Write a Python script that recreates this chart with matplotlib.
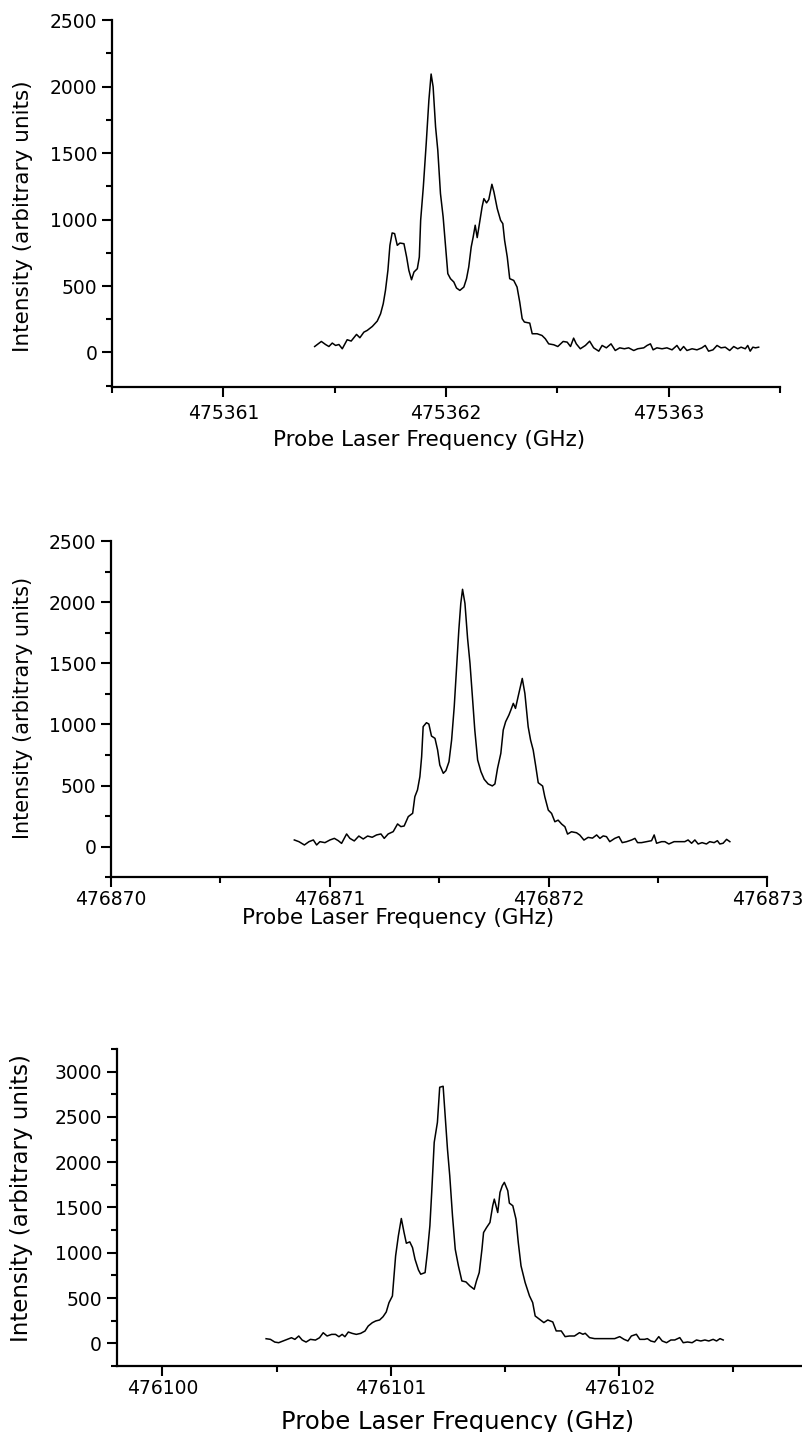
"""Three LIF spectra stacked vertically: intensity vs probe laser frequency."""

import matplotlib

matplotlib.use("Agg")
import matplotlib.pyplot as plt
import numpy as np
from matplotlib.ticker import FuncFormatter, MultipleLocator

plt.rcParams["font.family"] = ["DejaVu Sans"]

# Panel 1: frequency offsets from 475361 GHz and intensities
P1_BASE = 475361
P1_OFFSET = [
    0.410, 0.440, 0.459, 0.474, 0.489, 0.504, 0.519, 0.534, 0.556, 0.574,
    0.598, 0.613, 0.631, 0.646, 0.669, 0.691, 0.706, 0.718, 0.728, 0.739,
    0.748, 0.758, 0.769, 0.781, 0.793, 0.811, 0.823, 0.833, 0.845, 0.856,
    0.871, 0.880, 0.886, 0.898, 0.911, 0.923, 0.933, 0.942, 0.953, 0.963,
    0.975, 0.987, 0.998, 1.008, 1.020, 1.035, 1.047, 1.062, 1.080, 1.092,
    1.102, 1.113, 1.122, 1.131, 1.140, 1.150, 1.162, 1.170, 1.182, 1.192,
    1.206, 1.215, 1.230, 1.245, 1.255, 1.263, 1.275, 1.286, 1.304, 1.319,
    1.331, 1.342, 1.352, 1.376, 1.387, 1.409, 1.431, 1.446, 1.461, 1.484,
    1.502, 1.526, 1.544, 1.559, 1.573, 1.585, 1.603, 1.626, 1.645, 1.663,
    1.686, 1.701, 1.720, 1.741, 1.760, 1.780, 1.801, 1.820, 1.843, 1.861,
    1.888, 1.903, 1.918, 1.930, 1.947, 1.970, 1.992, 2.015, 2.037, 2.052,
    2.067, 2.082, 2.105, 2.127, 2.149, 2.164, 2.179, 2.199, 2.217, 2.235,
    2.254, 2.274, 2.292, 2.310, 2.325, 2.344, 2.355, 2.366, 2.378, 2.390,
    2.404,
]
P1_INTENSITY = [
    45, 83, 60, 45, 71, 53, 60, 28, 96, 86,
    136, 111, 153, 166, 196, 236, 291, 367, 467, 618,
    806, 899, 894, 806, 823, 818, 718, 618, 547, 605,
    630, 718, 994, 1245, 1572, 1898, 2094, 1998, 1697, 1521,
    1195, 1019, 793, 593, 555, 530, 485, 467, 492, 555,
    643, 793, 869, 957, 864, 969, 1095, 1157, 1125, 1150,
    1265, 1208, 1082, 994, 969, 844, 718, 555, 542, 492,
    379, 254, 229, 221, 141, 141, 128, 103, 65, 58,
    45, 83, 78, 45, 108, 65, 28, 53, 85, 35,
    10, 53, 35, 65, 15, 35, 28, 35, 15, 28,
    35, 53, 65, 20, 35, 28, 35, 20, 53, 15,
    45, 15, 28, 20, 35, 53, 10, 20, 53, 35,
    40, 15, 45, 28, 40, 28, 53, 10, 40, 35,
    40,
]

# Panel 2: offsets from 476870 GHz
P2_BASE = 476870
P2_OFFSET = [
    0.838, 0.859, 0.884, 0.905, 0.925, 0.940, 0.955, 0.978, 1.001, 1.021,
    1.039, 1.054, 1.077, 1.092, 1.112, 1.133, 1.153, 1.173, 1.194, 1.214,
    1.234, 1.249, 1.267, 1.290, 1.310, 1.325, 1.340, 1.359, 1.379, 1.389,
    1.401, 1.412, 1.420, 1.427, 1.442, 1.453, 1.465, 1.481, 1.493, 1.503,
    1.519, 1.531, 1.545, 1.557, 1.569, 1.580, 1.590, 1.599, 1.607, 1.618,
    1.630, 1.641, 1.651, 1.663, 1.676, 1.691, 1.706, 1.724, 1.743, 1.755,
    1.767, 1.782, 1.793, 1.804, 1.819, 1.828, 1.839, 1.849, 1.861, 1.880,
    1.892, 1.907, 1.918, 1.930, 1.942, 1.953, 1.973, 1.983, 1.999, 2.014,
    2.029, 2.044, 2.060, 2.075, 2.087, 2.105, 2.128, 2.143, 2.162, 2.181,
    2.201, 2.220, 2.235, 2.250, 2.265, 2.280, 2.303, 2.322, 2.337, 2.357,
    2.380, 2.395, 2.407, 2.425, 2.448, 2.471, 2.483, 2.494, 2.517, 2.532,
    2.550, 2.574, 2.600, 2.623, 2.638, 2.654, 2.669, 2.684, 2.702, 2.722,
    2.737, 2.757, 2.772, 2.783, 2.798, 2.814, 2.829,
]
P2_INTENSITY = [
    55, 41, 14, 41, 55, 14, 41, 33, 55, 68,
    49, 27, 104, 68, 47, 87, 63, 87, 77, 96,
    104, 68, 104, 123, 186, 164, 169, 246, 273, 409,
    464, 573, 736, 982, 1014, 1003, 905, 886, 791, 668,
    600, 622, 695, 872, 1145, 1472, 1772, 1990, 2105, 1990,
    1704, 1500, 1254, 954, 709, 614, 551, 513, 497, 513,
    641, 763, 954, 1022, 1077, 1118, 1172, 1131, 1227, 1376,
    1253, 981, 872, 790, 654, 523, 496, 408, 299, 272,
    204, 217, 185, 163, 103, 122, 114, 95, 54, 76,
    70, 96, 68, 88, 82, 41, 68, 82, 33, 41,
    55, 68, 33, 33, 41, 49, 96, 28, 41, 41,
    22, 41, 41, 41, 55, 28, 55, 22, 33, 22,
    41, 33, 49, 22, 28, 60, 41,
]

# Panel 3: offsets from 476100 GHz
P3_BASE = 476100
P3_OFFSET = [
    0.454, 0.473, 0.492, 0.509, 0.527, 0.546, 0.565, 0.580, 0.597, 0.612,
    0.629, 0.648, 0.670, 0.688, 0.704, 0.721, 0.741, 0.758, 0.773, 0.787,
    0.799, 0.814, 0.831, 0.849, 0.868, 0.887, 0.901, 0.919, 0.934, 0.951,
    0.966, 0.980, 0.992, 1.007, 1.014, 1.021, 1.033, 1.046, 1.058, 1.068,
    1.083, 1.095, 1.106, 1.121, 1.131, 1.150, 1.160, 1.171, 1.179, 1.190,
    1.204, 1.214, 1.229, 1.238, 1.248, 1.258, 1.270, 1.282, 1.296, 1.311,
    1.329, 1.346, 1.365, 1.375, 1.387, 1.399, 1.406, 1.419, 1.434, 1.446,
    1.453, 1.468, 1.478, 1.488, 1.497, 1.512, 1.519, 1.534, 1.548, 1.558,
    1.570, 1.588, 1.607, 1.621, 1.632, 1.651, 1.670, 1.687, 1.709, 1.724,
    1.746, 1.763, 1.782, 1.804, 1.826, 1.841, 1.851, 1.870, 1.892, 1.921,
    1.950, 1.980, 2.002, 2.021, 2.038, 2.053, 2.075, 2.090, 2.111, 2.123,
    2.138, 2.155, 2.173, 2.188, 2.207, 2.226, 2.243, 2.265, 2.280, 2.299,
    2.319, 2.338, 2.357, 2.375, 2.392, 2.411, 2.426, 2.441, 2.455,
]
P3_INTENSITY = [
    51, 44, 14, 7, 25, 44, 62, 44, 81, 36,
    14, 44, 36, 62, 117, 81, 99, 99, 73, 99,
    73, 125, 110, 99, 110, 136, 191, 228, 247, 258,
    294, 346, 449, 523, 744, 965, 1186, 1378, 1223, 1105,
    1120, 1057, 928, 810, 763, 781, 1002, 1297, 1666, 2219,
    2440, 2827, 2838, 2513, 2145, 1850, 1408, 1039, 855, 689,
    678, 634, 597, 689, 781, 1039, 1223, 1278, 1334, 1518,
    1592, 1444, 1666, 1740, 1777, 1685, 1548, 1519, 1371, 1113,
    855, 671, 524, 450, 302, 266, 229, 258, 236, 137,
    137, 74, 81, 81, 118, 100, 111, 63, 52, 52,
    52, 52, 74, 44, 26, 81, 100, 44, 44, 52,
    26, 15, 74, 26, 7, 37, 37, 63, 7, 15,
    7, 37, 26, 37, 26, 44, 26, 52, 37,
]

XLABEL = "Probe Laser Frequency (GHz)"
YLABEL = "Intensity (arbitrary units)"


def style_axis(axis, tick_size, tick_pad) -> None:
    """Origin-like look: only left and bottom spines, outward ticks."""
    for side in ("top", "right"):
        axis.spines[side].set_visible(False)
    for side in ("left", "bottom"):
        axis.spines[side].set_linewidth(1.6)
    axis.tick_params(which="both", direction="out", width=1.5, colors="black",
                     labelsize=tick_size)
    axis.tick_params(which="major", length=7.5)
    axis.tick_params(which="minor", length=4)
    axis.tick_params(axis="x", which="major", pad=tick_pad)
    axis.tick_params(axis="y", which="major", pad=3)
    axis.xaxis.set_major_locator(MultipleLocator(1))
    axis.xaxis.set_minor_locator(MultipleLocator(0.5))
    axis.yaxis.set_major_locator(MultipleLocator(500))
    axis.yaxis.set_minor_locator(MultipleLocator(250))
    axis.xaxis.set_major_formatter(FuncFormatter(lambda v, _: f"{v:.0f}"))
    axis.yaxis.set_major_formatter(FuncFormatter(lambda v, _: f"{v:.0f}"))


figure = plt.figure(figsize=(8.02, 14.32), dpi=100)

panels = [
    # base, offsets, intensities, axes rect, xlim, ylim, tick size, tick pad,
    # xlabel size, ylabel size, xlabel coords, ylabel coords
    (P1_BASE, P1_OFFSET, P1_INTENSITY, [0.1397, 0.7297, 0.8329, 0.2563],
     (475360.5, 475363.5), (-260, 2500), 13.5, 5, 15.5, 15.5,
     (0.474, -0.116), (-0.118, 0.466)),
    (P2_BASE, P2_OFFSET, P2_INTENSITY, [0.1384, 0.3874, 0.8183, 0.2348],
     (476870, 476873), (-250, 2500), 13.5, 1.5, 15.5, 15,
     (0.437, -0.090), (-0.119, 0.503)),
    (P3_BASE, P3_OFFSET, P3_INTENSITY, [0.1455, 0.0461, 0.8545, 0.2214],
     (476099.8, 476102.8), (-250, 3250), 13.5, 2, 17.5, 16.5,
     (0.498, -0.140), (-0.122, 0.530)),
]

for (base, offset, intensity, rect, xlim, ylim, tick_size, tick_pad,
     xlabel_size, ylabel_size, xlabel_pos, ylabel_pos) in panels:
    axis = figure.add_axes(rect)
    frequency = base + np.array(offset)
    axis.plot(frequency, intensity, color="black", linewidth=1.1)
    axis.set_xlim(*xlim)
    axis.set_ylim(*ylim)
    style_axis(axis, tick_size, tick_pad)
    axis.set_xlabel(XLABEL, fontsize=xlabel_size)
    axis.set_ylabel(YLABEL, fontsize=ylabel_size)
    axis.xaxis.set_label_coords(*xlabel_pos)
    axis.yaxis.set_label_coords(*ylabel_pos)

figure.savefig("out.png", dpi=100)
plt.close(figure)
